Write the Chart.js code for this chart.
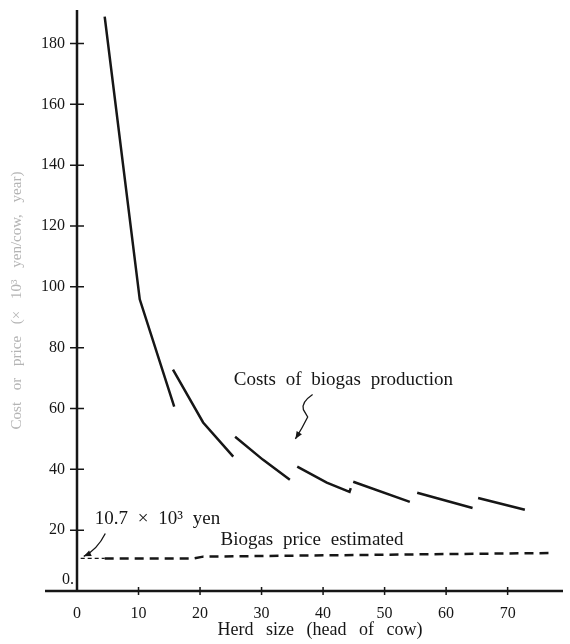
<!DOCTYPE html>
<html>
<head>
<meta charset="utf-8">
<script src="https://cdn.jsdelivr.net/npm/chart.js@4"></script>
<style>
  body { margin: 0; background: #fff; }
</style>
</head>
<body>
<canvas id="herdChart" width="570" height="644"></canvas>
<script>
// costs of biogas production, one row per drawn piece (null = break)
const costX = [4.5, 10.2, 15.8, 15.7, 15.6, 20.5, 25.4, 25.5, 25.7, 30.2, 34.6, 35.2, 35.8, 40.6, 44.3, 44.5, 44.7, 44.9, 54.1, 54.7, 55.3, 64.3, 64.8, 65.2, 72.8];
const costY = [188.8, 95.9, 60.6, null, 72.8, 55.4, 44.2, null, 50.7, 43.2, 36.6, null, 40.9, 35.6, 32.6, 33.8, null, 35.9, 29.3, null, 32.3, 27.3, null, 30.6, 26.7];

// estimated biogas price (dashed) and its leader from the axis
const priceX = [4.5, 19.0, 20.5, 77.5];
const priceY = [10.7, 10.7, 11.3, 12.5];
const leaderX = [0.6, 4.5];
const leaderY = [10.7, 10.7];

const xTicks = [0, 10, 20, 30, 40, 50, 60, 70];
const yTicks = [0, 20, 40, 60, 80, 100, 120, 140, 160, 180];

const pts = (xs, ys) => xs.map((x, i) => ({ x: x, y: ys[i] }));
const serif = "'Liberation Serif', 'DejaVu Serif', serif";
const ink = "#161616";

// axes drawn as crossing lines plus the hand-lettered notes
const decor = {
  id: "decor",
  beforeDraw(chart) {
    chart.ctx.wordSpacing = "8px";
  },
  afterDraw(chart) {
    const { ctx, chartArea } = chart;
    const xs = chart.scales.x;
    const ys = chart.scales.y;
    const X = (v) => xs.getPixelForValue(v);
    const Y = (v) => ys.getPixelForValue(v);
    const x0 = X(0);
    const y0 = Y(0);

    ctx.save();
    ctx.strokeStyle = ink;
    ctx.lineCap = "butt";

    // axis lines
    ctx.lineWidth = 2.5;
    ctx.beginPath();
    ctx.moveTo(x0, y0 + 1);
    ctx.lineTo(x0, chartArea.top);
    ctx.moveTo(X(-5.2), y0);
    ctx.lineTo(chartArea.right, y0);
    ctx.stroke();

    // tick crosses
    ctx.lineWidth = 1.5;
    ctx.beginPath();
    yTicks.forEach((v) => {
      if (v === 0) return;
      ctx.moveTo(x0 - 7, Y(v));
      ctx.lineTo(x0 + 7, Y(v));
    });
    xTicks.forEach((v) => {
      if (v === 0) return;
      ctx.moveTo(X(v), y0 - 4);
      ctx.lineTo(X(v), y0 + 4);
    });
    ctx.stroke();

    // zero label of the y axis sits above the x axis
    ctx.fillStyle = ink;
    ctx.wordSpacing = "0px";
    ctx.font = "16px " + serif;
    ctx.textAlign = "right";
    ctx.textBaseline = "middle";
    ctx.fillText("0.", x0 - 3, y0 - 11);

    // notes
    ctx.wordSpacing = "5px";
    ctx.font = "19px " + serif;
    ctx.textAlign = "left";
    ctx.fillText("10.7 × 10³ yen", X(2.9), Y(23.7));
    ctx.textAlign = "center";
    ctx.fillText("Biogas price estimated", X(38.2), Y(16.8));
    ctx.fillText("Costs of biogas production", X(43.3), Y(69.4));

    // arrow to 10.7 on the axis
    ctx.lineWidth = 1.3;
    ctx.beginPath();
    ctx.moveTo(X(4.6), Y(18.9));
    ctx.quadraticCurveTo(X(3.3), Y(13.6), X(1.1), Y(11.4));
    ctx.stroke();
    arrowHead(ctx, X(3.0), Y(13.2), X(1.1), Y(11.4));

    // wavy arrow to the cost curve
    ctx.beginPath();
    ctx.moveTo(X(38.3), Y(64.6));
    ctx.quadraticCurveTo(X(36.4), Y(62.0), X(36.8), Y(59.6));
    ctx.lineTo(X(37.5), Y(57.2));
    ctx.quadraticCurveTo(X(36.6), Y(53.5), X(35.5), Y(50.0));
    ctx.stroke();
    arrowHead(ctx, X(36.3), Y(52.6), X(35.5), Y(50.0));

    ctx.restore();
  },
};

function arrowHead(ctx, fx, fy, tx, ty) {
  const a = Math.atan2(ty - fy, tx - fx);
  const len = 8;
  ctx.beginPath();
  ctx.moveTo(tx, ty);
  ctx.lineTo(tx - len * Math.cos(a - 0.4), ty - len * Math.sin(a - 0.4));
  ctx.lineTo(tx - len * Math.cos(a + 0.4), ty - len * Math.sin(a + 0.4));
  ctx.closePath();
  ctx.fill();
}

new Chart(document.getElementById("herdChart"), {
  type: "line",
  data: {
    datasets: [
      {
        label: "Costs of biogas production",
        data: pts(costX, costY),
        borderColor: ink,
        borderWidth: 2.5,
        pointRadius: 0,
        spanGaps: false,
        tension: 0,
      },
      {
        label: "Biogas price estimated",
        data: pts(priceX, priceY),
        borderColor: ink,
        borderWidth: 2.5,
        borderDash: [9, 6],
        pointRadius: 0,
      },
      {
        label: "leader",
        data: pts(leaderX, leaderY),
        borderColor: ink,
        borderWidth: 1.3,
        borderDash: [4, 3],
        pointRadius: 0,
      },
    ],
  },
  options: {
    responsive: false,
    animation: false,
    devicePixelRatio: 1,
    layout: { padding: { top: 10, right: 7, left: 0, bottom: 0 } },
    plugins: {
      legend: { display: false },
      tooltip: { enabled: false },
    },
    scales: {
      x: {
        type: "linear",
        min: 0,
        max: 79,
        grid: { display: false, drawTicks: false },
        border: { display: false },
        afterBuildTicks: (scale) => {
          scale.ticks = xTicks.map((v) => ({ value: v }));
        },
        afterFit: (scale) => {
          scale.height = 53;
          scale.paddingLeft = 0;
          scale.paddingRight = 0;
        },
        ticks: {
          color: ink,
          padding: 13,
          maxRotation: 0,
          font: { family: serif, size: 16 },
        },
        title: {
          display: true,
          text: "Herd size (head of cow)",
          color: ink,
          font: { family: serif, size: 18 },
          padding: { top: 4, bottom: 3 },
        },
      },
      y: {
        type: "linear",
        min: 0,
        max: 191,
        grid: { display: false, drawTicks: false },
        border: { display: false },
        afterBuildTicks: (scale) => {
          scale.ticks = yTicks.map((v) => ({ value: v }));
        },
        afterFit: (scale) => {
          scale.width = 77;
          scale.paddingTop = 0;
          scale.paddingBottom = 0;
        },
        ticks: {
          color: ink,
          padding: 12,
          font: { family: serif, size: 16 },
          callback: (v) => (v === 0 ? "" : v),
        },
        title: {
          display: true,
          text: "Cost or price (× 10³ yen/cow, year)",
          color: "#b4b4b4",
          font: { family: serif, size: 15 },
          padding: { top: 8, bottom: 0 },
        },
      },
    },
  },
  plugins: [decor],
});
</script>
</body>
</html>
